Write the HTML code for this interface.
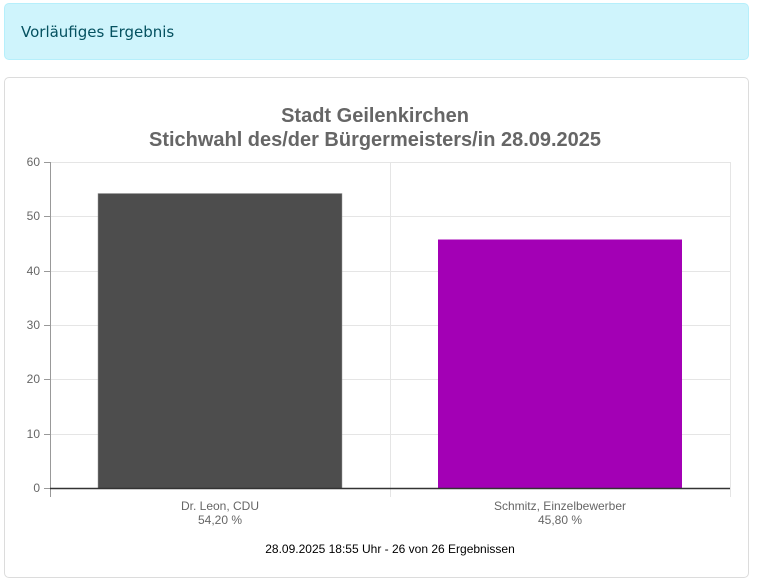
<!DOCTYPE html>
<html><head><meta charset="utf-8"><style>
body{margin:0;background:#fff;font-family:"Liberation Sans",sans-serif;}
.alert{position:absolute;left:4px;top:3px;width:743px;height:55px;background:#cff4fc;border:1px solid #b6effb;border-radius:5px;box-sizing:content-box}
.alert span{position:absolute;left:16px;top:19px;color:#055160;font-family:"DejaVu Sans","Liberation Sans",sans-serif;font-size:15px}
.card{position:absolute;left:4px;top:77px;width:743px;height:499px;border:1px solid #dcdcdc;border-radius:5px}
</style></head><body>
<div class="alert"><span>Vorläufiges Ergebnis</span></div>
<div class="card"></div>
<svg width="760" height="585" style="position:absolute;left:0;top:0" font-family="Liberation Sans, sans-serif">
<g fill="#666" font-weight="bold" font-size="20" text-anchor="middle">
<text x="375" y="122">Stadt Geilenkirchen</text>
<text x="375" y="146" textLength="452" lengthAdjust="spacingAndGlyphs">Stichwahl des/der Bürgermeisters/in 28.09.2025</text>
</g>
<g stroke="#e5e5e5" stroke-width="1">
<line x1="50" y1="162.5" x2="730" y2="162.5"/>
<line x1="50" y1="216.5" x2="730" y2="216.5"/>
<line x1="50" y1="271.5" x2="730" y2="271.5"/>
<line x1="50" y1="325.5" x2="730" y2="325.5"/>
<line x1="50" y1="379.5" x2="730" y2="379.5"/>
<line x1="50" y1="434.5" x2="730" y2="434.5"/>
<line x1="390.5" y1="162" x2="390.5" y2="497"/>
<line x1="730.5" y1="162" x2="730.5" y2="497"/>
</g>
<g stroke="#999"><line x1="50.5" y1="162" x2="50.5" y2="497"/>
<line x1="44" y1="162.5" x2="50" y2="162.5"/><line x1="44" y1="216.5" x2="50" y2="216.5"/><line x1="44" y1="271.5" x2="50" y2="271.5"/><line x1="44" y1="325.5" x2="50" y2="325.5"/><line x1="44" y1="379.5" x2="50" y2="379.5"/><line x1="44" y1="434.5" x2="50" y2="434.5"/><line x1="44" y1="488.5" x2="50" y2="488.5"/></g>
<rect x="98" y="193.5" width="244" height="295" fill="#4d4d4d" stroke="#999" stroke-width="0.5"/>
<rect x="438" y="239.5" width="244" height="249" fill="#a300b5"/>
<line x1="50" y1="488.5" x2="730" y2="488.5" stroke="#333" stroke-width="1.5"/>
<g fill="#666" font-size="12" text-anchor="end">
<text x="40" y="166">60</text><text x="40" y="220">50</text><text x="40" y="275">40</text><text x="40" y="329">30</text><text x="40" y="383">20</text><text x="40" y="438">10</text><text x="40" y="492">0</text>
</g>
<g fill="#666" font-size="12" text-anchor="middle">
<text x="220" y="510">Dr. Leon, CDU</text><text x="220" y="524">54,20 %</text>
<text x="560" y="510">Schmitz, Einzelbewerber</text><text x="560" y="524">45,80 %</text>
</g>
<text x="390" y="553" font-size="12" fill="#000" text-anchor="middle">28.09.2025 18:55 Uhr - 26 von 26 Ergebnissen</text>
</svg>
</body></html>
